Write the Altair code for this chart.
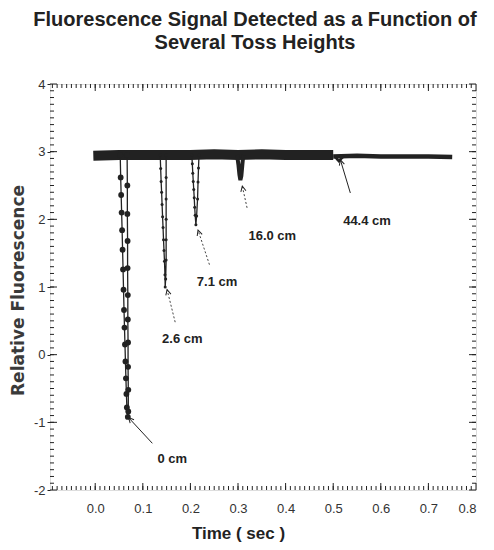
import math
import altair as alt
import pandas as pd

# ---------------- data ----------------
band_t = [-0.004, 0.05, 0.10, 0.15, 0.20, 0.25, 0.30, 0.35, 0.40, 0.45, 0.50]
band_v = [2.94, 2.95, 2.95, 2.95, 2.95, 2.96, 2.95, 2.96, 2.95, 2.95, 2.95]
tail_t = [0.50, 0.55, 0.60, 0.65, 0.70, 0.75]
tail_v = [2.93, 2.94, 2.93, 2.93, 2.93, 2.92]

dip0_t = [0.0525, 0.0535, 0.0545, 0.0555, 0.0565, 0.0575, 0.0585, 0.0595, 0.0605,
          0.0615, 0.0625, 0.0635, 0.0645, 0.0655, 0.0665, 0.0685,
          0.0695, 0.0695, 0.069, 0.069, 0.0685, 0.0685, 0.068, 0.068, 0.0675, 0.0675, 0.067]
dip0_v = [2.95, 2.62, 2.36, 2.10, 1.84, 1.55, 1.26, 0.96, 0.66,
          0.40, 0.15, -0.10, -0.35, -0.58, -0.78, -0.92,
          -0.84, -0.52, -0.18, 0.18, 0.52, 0.88, 1.28, 1.68, 2.08, 2.50, 2.95]

dip26_t = [0.1365, 0.1375, 0.1385, 0.1395, 0.1405, 0.1415, 0.1425, 0.1435, 0.1445,
           0.1455, 0.1465, 0.147, 0.148, 0.149, 0.149, 0.149, 0.149, 0.149, 0.149]
dip26_v = [2.95, 2.75, 2.56, 2.40, 2.22, 2.04, 1.88, 1.70, 1.54,
           1.38, 1.18, 1.00, 1.12, 1.40, 1.70, 2.00, 2.30, 2.62, 2.95]

dip71_t = [0.203, 0.204, 0.205, 0.206, 0.207, 0.208, 0.209, 0.210, 0.2115,
           0.213, 0.215, 0.216, 0.217, 0.218]
dip71_v = [2.95, 2.82, 2.68, 2.56, 2.44, 2.32, 2.18, 2.06, 1.92,
           2.05, 2.30, 2.55, 2.76, 2.95]

dip16_t = [0.298, 0.301, 0.303, 0.305, 0.307, 0.309, 0.311]
dip16_v = [2.95, 2.80, 2.66, 2.58, 2.64, 2.80, 2.95]

dip44_t = [0.503, 0.508, 0.512, 0.516, 0.522]
dip44_v = [2.94, 2.89, 2.86, 2.89, 2.93]

labels = ["0 cm", "2.6 cm", "7.1 cm", "16.0 cm", "44.4 cm"]
label_t = [0.162, 0.183, 0.256, 0.372, 0.571]
label_v = [-1.54, 0.23, 1.07, 1.75, 1.98]
head_t = [0.070, 0.151, 0.216, 0.309, 0.515]
head_v = [-0.93, 0.96, 1.84, 2.49, 2.88]
tailp_t = [0.120, 0.168, 0.240, 0.319, 0.536]
tailp_v = [-1.31, 0.48, 1.33, 2.17, 2.39]
arrow_dotted = [False, True, True, True, False]

x_major = [0.0, 0.1, 0.2, 0.3, 0.4, 0.5, 0.6, 0.7, 0.8]
y_major = [-2, -1, 0, 1, 2, 3, 4]
x_minor = [round(-0.09 + 0.01 * i, 2) for i in range(89)]
y_minor = [round(-1.9 + 0.1 * i, 1) for i in range(59)]

# ---------------- layout ----------------
W, H = 426, 406
X_DOM = [-0.095, 0.8]
Y_DOM = [-2, 4]
INK = "#222222"
FONT = "Liberation Sans"

xs = alt.Scale(domain=X_DOM, nice=False, zero=False)
ys = alt.Scale(domain=Y_DOM, nice=False, zero=False)

band = pd.DataFrame({"t": band_t, "v": band_v})
tail = pd.DataFrame({"t": tail_t, "v": tail_v})


def dip_frame(name, t, v):
    return pd.DataFrame({"t": t, "v": v, "dip": name, "i": range(len(t))})


dips = pd.concat([
    dip_frame("0", dip0_t, dip0_v),
    dip_frame("2.6", dip26_t, dip26_v),
    dip_frame("7.1", dip71_t, dip71_v),
])
d16 = dip_frame("16", dip16_t, dip16_v)
d44 = dip_frame("44", dip44_t, dip44_v)

pxx = W / (X_DOM[1] - X_DOM[0])
pxy = H / (Y_DOM[1] - Y_DOM[0])
angles = []
for ht, hv, tt, tv in zip(head_t, head_v, tailp_t, tailp_v):
    dx = (ht - tt) * pxx
    dy = -(hv - tv) * pxy
    angles.append(math.degrees(math.atan2(dx, -dy)) % 360)

ann = pd.DataFrame({
    "label": labels, "lt": label_t, "lv": label_v,
    "ht": head_t, "hv": head_v, "tt": tailp_t, "tv": tailp_v,
    "dotted": arrow_dotted, "ang": angles,
})

xaxis = alt.Axis(
    values=x_major, format=".1f", ticks=False, domain=False, grid=False,
    labelFont=FONT, labelFontSize=13, labelColor="#333333", labelPadding=12,
    title="Time ( sec )", titleFont=FONT, titleFontSize=17, titleFontWeight="bold",
    titleColor=INK, titleX=188, titleY=43, titleAlign="center", titleBaseline="middle",
)
yaxis = alt.Axis(
    values=y_major, labelExpr="'' + datum.value", ticks=True, tickSize=3, tickColor=INK,
    domain=False, grid=False, labelFont=FONT, labelFontSize=13, labelColor="#333333",
    labelPadding=2,
    title="Relative Fluorescence", titleFont="DejaVu Sans", titleFontSize=17,
    titleFontWeight="bold", titleColor="#3a3a3a", titleX=-32, titleY=206,
    titleAngle=270, titleAlign="center", titleBaseline="middle",
)

base_band = alt.Chart(band).mark_line(color=INK, strokeWidth=10, strokeCap="butt").encode(
    x=alt.X("t:Q", scale=xs, axis=xaxis),
    y=alt.Y("v:Q", scale=ys, axis=yaxis),
)
base_tail = alt.Chart(tail).mark_line(color=INK, strokeWidth=4.5, strokeCap="butt").encode(
    x=alt.X("t:Q", scale=xs), y=alt.Y("v:Q", scale=ys),
)
dip_lines = alt.Chart(dips).mark_line(color=INK, strokeWidth=1.3).encode(
    x=alt.X("t:Q", scale=xs), y=alt.Y("v:Q", scale=ys),
    detail="dip:N", order="i:Q",
)
big_dots = alt.Chart(dips).transform_filter("datum.dip == '0'").mark_circle(
    color=INK, opacity=1, size=34).encode(
    x=alt.X("t:Q", scale=xs), y=alt.Y("v:Q", scale=ys),
)
small_dots = alt.Chart(dips).transform_filter("datum.dip != '0'").mark_circle(
    color=INK, opacity=1, size=9).encode(
    x=alt.X("t:Q", scale=xs), y=alt.Y("v:Q", scale=ys),
)
dip16_line = alt.Chart(d16).mark_line(color=INK, strokeWidth=4).encode(
    x=alt.X("t:Q", scale=xs), y=alt.Y("v:Q", scale=ys), order="i:Q",
)
dip44_line = alt.Chart(d44).mark_line(color=INK, strokeWidth=2.5).encode(
    x=alt.X("t:Q", scale=xs), y=alt.Y("v:Q", scale=ys), order="i:Q",
)

arrow_enc = dict(
    x=alt.X("tt:Q", scale=xs), y=alt.Y("tv:Q", scale=ys),
    x2="ht:Q", y2="hv:Q",
)
arrow_solid = alt.Chart(ann).transform_filter("!datum.dotted").mark_rule(
    color=INK, strokeWidth=1).encode(**arrow_enc)
arrow_dot = alt.Chart(ann).transform_filter("datum.dotted").mark_rule(
    color="#444444", strokeWidth=1, strokeDash=[2, 2]).encode(**arrow_enc)
heads = alt.Chart(ann).mark_point(
    shape="M-0.5,1L0,0L0.5,1", filled=False, color=INK, strokeWidth=1, size=110, opacity=1
).encode(
    x=alt.X("ht:Q", scale=xs), y=alt.Y("hv:Q", scale=ys),
    angle=alt.Angle("ang:Q", scale=None),
)
texts = alt.Chart(ann).mark_text(
    font=FONT, fontSize=13, fontWeight="bold", color=INK, align="center", baseline="middle"
).encode(
    x=alt.X("lt:Q", scale=xs), y=alt.Y("lv:Q", scale=ys), text="label:N",
)

# inward frame ticks
xmaj = pd.DataFrame({"t": x_major})
xmin = pd.DataFrame({"t": x_minor})
ymaj = pd.DataFrame({"v": y_major})
ymin = pd.DataFrame({"v": y_minor})


def xticks(df, length):
    bot = alt.Chart(df).mark_rule(color=INK, strokeWidth=1).encode(
        x=alt.X("t:Q", scale=xs), y=alt.value(H), y2=alt.value(H - length))
    top = alt.Chart(df).mark_rule(color=INK, strokeWidth=1).encode(
        x=alt.X("t:Q", scale=xs), y=alt.value(0), y2=alt.value(length))
    return [bot, top]


def yticks(df, length):
    left = alt.Chart(df).mark_rule(color=INK, strokeWidth=1).encode(
        y=alt.Y("v:Q", scale=ys), x=alt.value(0), x2=alt.value(length))
    right = alt.Chart(df).mark_rule(color=INK, strokeWidth=1).encode(
        y=alt.Y("v:Q", scale=ys), x=alt.value(W), x2=alt.value(W - length))
    return [left, right]


tick_layers = xticks(xmin, 4) + xticks(xmaj, 7) + yticks(ymin, 4) + yticks(ymaj, 7)

chart = alt.layer(
    base_band, base_tail, dip_lines, dip16_line, dip44_line, big_dots, small_dots,
    arrow_solid, arrow_dot, heads, texts, *tick_layers
).properties(
    width=W, height=H,
    autosize=alt.AutoSizeParams(type="none"),
    padding={"left": 42, "top": 76, "right": 10, "bottom": 52},
    title=alt.TitleParams(
        text=["Fluorescence Signal Detected as a Function of", "Several Toss Heights"],
        font=FONT, fontSize=20, fontWeight="bold", color=INK, anchor="middle",
        lineHeight=23, offset=25, dx=-8,
    ),
).configure_view(stroke=INK, strokeWidth=1.3).configure(background="white")

chart.save("out.html", embed_options={"renderer": "svg", "actions": False})
